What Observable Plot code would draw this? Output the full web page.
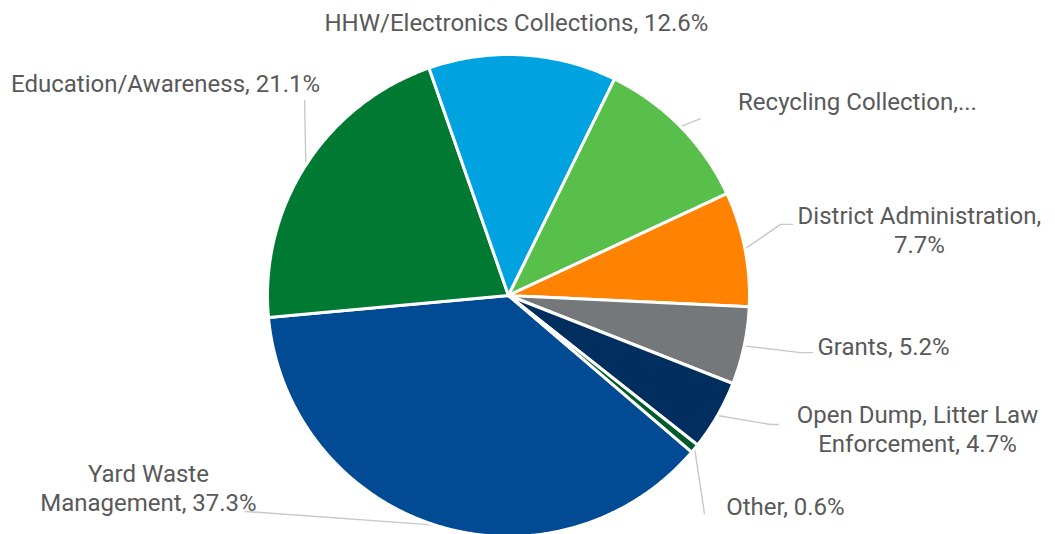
<!DOCTYPE html>
<html>
<head>
<meta charset="utf-8">
<script src="https://cdn.jsdelivr.net/npm/d3@7"></script>
<script src="https://cdn.jsdelivr.net/npm/@observablehq/plot@0.6"></script>
<style>
  html, body { margin: 0; padding: 0; background: #ffffff; }
  #chart { width: 1055px; height: 534px; }
</style>
</head>
<body>
<div id="chart"></div>
<script>
// ---- data ----
const categories = [
  "Yard Waste Management",
  "Education/Awareness",
  "HHW/Electronics Collections",
  "Recycling Collection",
  "District Administration",
  "Grants",
  "Open Dump, Litter Law Enforcement",
  "Other"
];
const values = [37.3, 21.1, 12.6, 10.8, 7.7, 5.2, 4.7, 0.6];
const labelTexts = [
  "Yard Waste\nManagement, 37.3%",
  "Education/Awareness, 21.1%",
  "HHW/Electronics Collections, 12.6%",
  "Recycling Collection,...",
  "District Administration,\n7.7%",
  "Grants, 5.2%",
  "Open Dump, Litter Law\nEnforcement, 4.7%",
  "Other, 0.6%"
];
const colors = ["#004B93", "#007A33", "#00A3E0", "#58C04A", "#FF8200", "#75787B", "#002F5F", "#005A2B"];

// ---- layout (unit circle coordinates, pie radius = 1) ----
const W = 1055, H = 534, CX = 508, CY = 295, R = 241;
const startDeg = 130.5;
// label centre and leader line points (elbow/end), in radius units
const layout = {
  "Yard Waste Management":            {lx: -1.494, ly: -0.797, leader: [[-1.091, -0.896]]},
  "Education/Awareness":              {lx: -1.423, ly: 0.884,  leader: [[-0.846, 0.809]]},
  "HHW/Electronics Collections":      {lx: 0.033,  ly: 1.137,  leader: []},
  "Recycling Collection":             {lx: 1.448,  ly: 0.809,  leader: [[0.797, 0.734]]},
  "District Administration":          {lx: 1.705,  ly: 0.274,  leader: [[1.129, 0.295], [1.178, 0.295]]},
  "Grants":                           {lx: 1.556,  ly: -0.207, leader: [[1.212, -0.237], [1.261, -0.237]]},
  "Open Dump, Litter Law Enforcement":{lx: 1.697,  ly: -0.552, leader: [[1.087, -0.535], [1.120, -0.535]]},
  "Other":                            {lx: 1.149,  ly: -0.871, leader: [[0.813, -0.905]]}
};

const table = categories.map((c, i) => ({name: c, value: values[i], label: labelTexts[i]}));
const arcs = d3.pie().sort(null).value(d => d.value)
  .startAngle(startDeg * Math.PI / 180)
  .endAngle(startDeg * Math.PI / 180 + 2 * Math.PI)(table);

// slice outlines
const slicePts = [];
for (const a of arcs) {
  slicePts.push({name: a.data.name, x: 0, y: 0});
  const n = Math.max(2, Math.ceil((a.endAngle - a.startAngle) / (Math.PI / 360)));
  for (let k = 0; k <= n; k++) {
    const t = a.startAngle + (a.endAngle - a.startAngle) * k / n;
    slicePts.push({name: a.data.name, x: Math.sin(t), y: Math.cos(t)});
  }
  slicePts.push({name: a.data.name, x: 0, y: 0});
}

// leader lines
const leaderPts = [];
for (const a of arcs) {
  const L = layout[a.data.name];
  if (!L.leader.length) continue;
  const m = (a.startAngle + a.endAngle) / 2;
  leaderPts.push({name: a.data.name, x: Math.sin(m), y: Math.cos(m)});
  for (const p of L.leader) leaderPts.push({name: a.data.name, x: p[0], y: p[1]});
}

const labels = arcs.map(a => ({
  name: a.data.name,
  text: a.data.label,
  x: layout[a.data.name].lx,
  y: layout[a.data.name].ly
}));

const chart = Plot.plot({
  width: W,
  height: H,
  margin: 0,
  style: {background: "#ffffff", fontFamily: "Roboto, 'Noto Sans', sans-serif"},
  x: {domain: [-CX / R, (W - CX) / R], axis: null},
  y: {domain: [(CY - H) / R, CY / R], axis: null},
  color: {domain: categories, range: colors},
  marks: [
    Plot.line(leaderPts, {x: "x", y: "y", z: "name", stroke: "#C8C8C8", strokeWidth: 1.4}),
    Plot.line(slicePts, {x: "x", y: "y", z: "name", fill: "name", stroke: "#ffffff", strokeWidth: 3, strokeLinejoin: "round"}),
    Plot.text(labels, {x: "x", y: "y", text: "text", fill: "#595959", fontSize: 24, lineHeight: 1.2, textAnchor: "middle"})
  ]
});
document.getElementById("chart").appendChild(chart);
</script>
</body>
</html>
